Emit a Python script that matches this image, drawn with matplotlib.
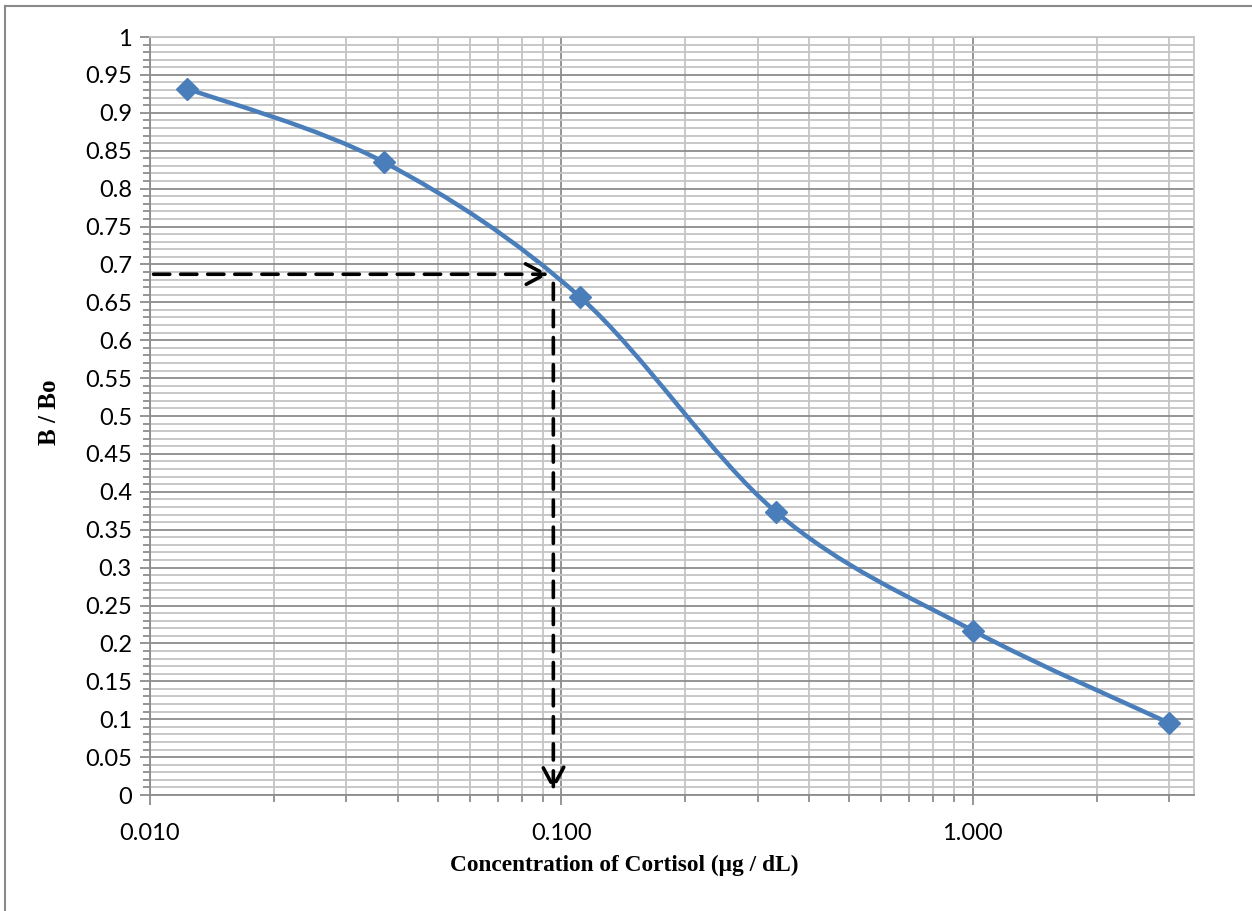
import matplotlib
matplotlib.use('Agg')
import matplotlib.pyplot as plt
import numpy as np
from matplotlib.path import Path
from matplotlib.patches import PathPatch
from matplotlib.lines import Line2D
from matplotlib.ticker import FixedLocator, NullFormatter, FuncFormatter

# --- data ---
conc = [0.0123, 0.037, 0.111, 0.333, 1.0, 3.0]
b_bo = [0.932, 0.835, 0.657, 0.373, 0.217, 0.095]

# reading of an unknown sample
sample_ratio = 0.687
sample_conc = 0.0956

x_ticks = [0.01, 0.1, 1.0]
x_tick_labels = ['0.010', '0.100', '1.000']

LINE_BLUE = '#4a7ebb'
MAJOR_GRID = '#8c8c8c'
MINOR_GRID = '#c4c4c4'

fig = plt.figure(figsize=(12.52, 9.11), dpi=100)
W, H = 1252, 911
ax = fig.add_axes([150 / W, 1 - 795 / H, (1194 - 150) / W, (795 - 37) / H])

ax.set_xscale('log')
ax.set_xlim(0.01, 3.45)
ax.set_ylim(0, 1)

# grid
ax.xaxis.set_major_locator(FixedLocator(x_ticks))
ax.xaxis.set_minor_locator(FixedLocator(
    [m * d for d in (0.01, 0.1, 1.0) for m in range(2, 10) if m * d < 3.45]))
ax.xaxis.set_major_formatter(FuncFormatter(
    lambda v, p: x_tick_labels[x_ticks.index(v)] if v in x_ticks else ''))
ax.xaxis.set_minor_formatter(NullFormatter())
ax.yaxis.set_major_locator(FixedLocator(np.arange(0, 1.0001, 0.05)))
ax.yaxis.set_minor_locator(FixedLocator(np.arange(0, 1.0001, 0.01)))
ax.yaxis.set_major_formatter(FuncFormatter(lambda v, p: '%g' % round(v, 2)))

ax.grid(True, which='major', color=MAJOR_GRID, linewidth=1.3)
ax.grid(True, which='minor', color=MINOR_GRID, linewidth=1.3)
ax.set_axisbelow(True)

for s in ax.spines.values():
    s.set_color(MINOR_GRID)
    s.set_linewidth(1.3)
ax.spines['left'].set_color(MAJOR_GRID)
ax.spines['bottom'].set_color(MAJOR_GRID)

ax.tick_params(which='both', direction='out', color=MAJOR_GRID, width=1.3)
ax.tick_params(which='major', length=7, labelsize=17, pad=6)
ax.tick_params(which='minor', length=5)
ax.tick_params(axis='x', which='major', pad=13)
for lbl in ax.get_xticklabels() + ax.get_yticklabels():
    lbl.set_fontfamily('Lato')

# smoothed line (Excel-style bezier through the points)
lx = np.log10(conc)
ly = np.array(b_bo)
pts = np.column_stack([lx, ly])
verts = [pts[0]]
codes = [Path.MOVETO]
n = len(pts)
for i in range(n - 1):
    p0 = pts[i - 1] if i > 0 else pts[i]
    p1 = pts[i]
    p2 = pts[i + 1]
    p3 = pts[i + 2] if i + 2 < n else pts[i + 1]
    c1 = p1 + (p2 - p0) / 6
    c2 = p2 - (p3 - p1) / 6
    verts += [c1, c2, p2]
    codes += [Path.CURVE4] * 3
verts = np.array(verts)
verts[:, 0] = 10 ** verts[:, 0]
ax.add_patch(PathPatch(Path(verts, codes), fill=False, edgecolor=LINE_BLUE,
                       linewidth=3.2, capstyle='round', zorder=3))
ax.plot(conc, b_bo, linestyle='none', marker='D', markersize=11.5,
        color=LINE_BLUE, zorder=4)

# dashed reading arrows
arrow_kw = dict(arrowstyle='->,head_length=1.4,head_width=0.75',
                color='black', linewidth=2.6, linestyle=(0, (4.5, 3)),
                shrinkA=0, shrinkB=0)
ax.annotate('', xy=(sample_conc * 0.975, sample_ratio), xytext=(0.0102, sample_ratio),
            arrowprops=arrow_kw, zorder=5)
ax.annotate('', xy=(sample_conc, 0.006), xytext=(sample_conc, sample_ratio - 0.012),
            arrowprops=arrow_kw, zorder=5)

# axis titles
fig.text(624 / W, 1 - 865 / H, 'Concentration of Cortisol (μg / dL)',
         ha='center', va='center', fontsize=16.8, fontweight='bold',
         family='Liberation Serif')
fig.text(50 / W, 1 - 412 / H, 'B / Bo', ha='center', va='center', rotation=90,
         fontsize=18, fontweight='bold', family='Liberation Serif')

# chart area border (cropped on right and bottom)
fig.add_artist(Line2D([5 / W, 1.01], [1 - 6 / H, 1 - 6 / H], color='#8a8a8a',
                      linewidth=1.5, transform=fig.transFigure))
fig.add_artist(Line2D([5 / W, 5 / W], [1 - 6 / H, -0.01], color='#8a8a8a',
                      linewidth=1.5, transform=fig.transFigure))

fig.savefig('out.png', dpi=100, facecolor='white')
